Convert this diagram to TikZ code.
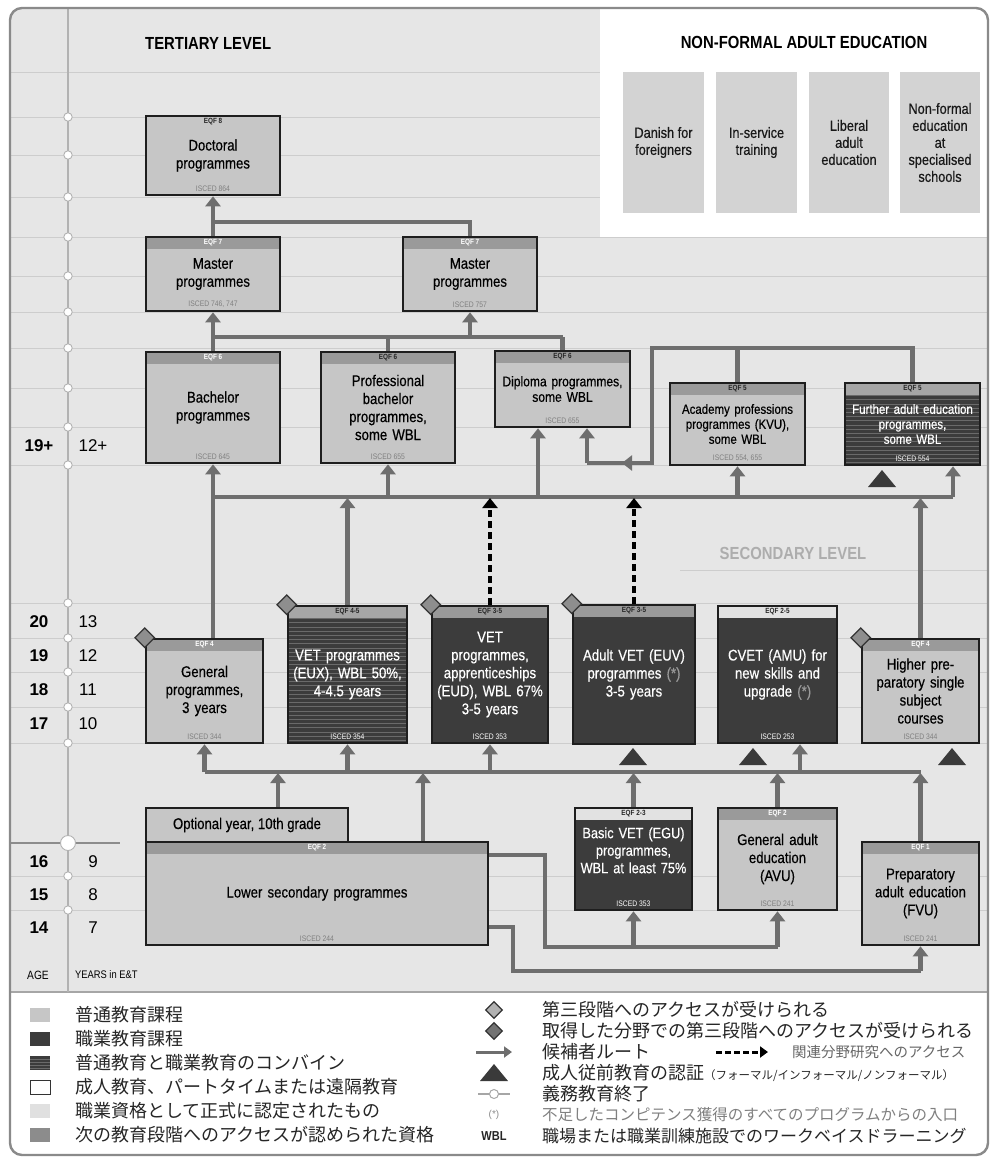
\documentclass[tikz,border=0pt]{standalone}
\usepackage{fontspec}
\setmainfont{Liberation Sans}
\newfontfamily\cond[FakeStretch=0.85]{Liberation Sans}
\newfontfamily\condm[FakeStretch=0.85,FakeBold=0.45]{Liberation Sans}
\newfontfamily\jp{Noto Sans CJK JP}
\usetikzlibrary{arrows.meta,shapes.geometric,calc}
\definecolor{cbg}{HTML}{E6E6E6}
\definecolor{cgrid}{HTML}{CDCDCD}
\definecolor{cframe}{HTML}{8A8A8A}
\definecolor{croute}{HTML}{6E6E6E}
\definecolor{cborder}{HTML}{1E1E1E}
\definecolor{clight}{HTML}{C6C6C6}
\definecolor{cdark}{HTML}{3C3C3C}
\definecolor{cstripe}{HTML}{6A6A6A}
\definecolor{cband}{HTML}{9A9A9A}
\definecolor{cbandmid}{HTML}{A6A6A6}
\definecolor{cbandlight}{HTML}{E2E2E2}
\definecolor{cdiam}{HTML}{8E8E8E}
\definecolor{ctri}{HTML}{3A3A3A}
\definecolor{cnf}{HTML}{D3D3D3}

\newcommand\progbox[9][]{%
  \pgfmathsetmacro\pbw{#5-#3}%
  \pgfmathsetmacro\pbh{#6-#4}%
  \pgfmathsetmacro\pbt{#5-#3-6}%
  \pgfmathsetmacro\pbx{(#3+#5)/2}%
  \pgfmathsetmacro\pby{(#4+#6)/2}%
  \node[prog,minimum width=\pbw pt,minimum height=\pbh pt,text width=\pbt pt,#1] (#2) at (\pbx,\pby) {#8};
  \node[eqf] (#2-eqf) at ([yshift=-6.6pt]#2.north) {#7};
  \node[isced] (#2-isc) at ([yshift=8pt]#2.south) {#9};
}
\newcommand\rpl[3]{\fill[ctri] ({#2-14},{#3+8}) -- ({#2+14},{#3+8}) -- (#2,{#3-9}) -- cycle; \coordinate (#1) at (#2,#3);}

\begin{document}
\begin{tikzpicture}[x=1pt,y=-1pt,
  route/.style={draw=croute,line width=4.2pt},
  rarrow/.style={route,-{Triangle[width=15pt,length=10pt]}},
  darrow/.style={draw=black,line width=4pt,dash pattern=on 7pt off 4pt,-{Triangle[width=15pt,length=10pt]}},
  prog/.style={draw=cborder,line width=2.6pt,inner sep=0pt,align=center,fill=clight,text=black,font=\condm\fontsize{15.5}{18}\selectfont},
  bandbox/.style={path picture={\fill[#1] (path picture bounding box.north west) rectangle ([yshift=-12pt]path picture bounding box.north east);}},
  darkbox/.style={fill=cdark,text=white,bandbox=#1},
  stripebox/.style={fill=cdark,text=white,path picture={\foreach \k in {1,...,34}{\draw[cstripe,line width=0.7pt] ([yshift=-\k*4.2pt]path picture bounding box.north west) -- ([yshift=-\k*4.2pt]path picture bounding box.north east);} \fill[#1] (path picture bounding box.north west) rectangle ([yshift=-12pt]path picture bounding box.north east);}},
  eqf/.style={font=\cond\bfseries\fontsize{7.5}{7.5}\selectfont,inner sep=0pt,text=black!85},
  isced/.style={font=\cond\fontsize{8}{8}\selectfont,inner sep=0pt,text=black!50},
  diam/.style={diamond,draw=black!80,fill=cdiam,line width=1.2pt,minimum width=20pt,minimum height=20pt,inner sep=0pt},
  nfbox/.style={fill=cnf,inner sep=0pt,minimum height=141pt,align=center,text=black!90,font=\condm\fontsize{15}{17}\selectfont},
  head/.style={font=\cond\bfseries\fontsize{17.5}{18}\selectfont,inner sep=0pt},
  agebf/.style={font=\bfseries\fontsize{17}{17}\selectfont,inner sep=0pt},
  agerg/.style={font=\fontsize{17}{17}\selectfont,inner sep=0pt},
  lt/.style={anchor=west,inner sep=0pt,font=\jp\fontsize{18}{18}\selectfont,text=black!85},
  lsq/.style={minimum width=20pt,minimum height=14pt,inner sep=0pt}
]
\useasboundingbox (0,0) rectangle (993,1162);
\fill[white] (0,0) rectangle (993,1162);
% background
\begin{scope}
\clip[rounded corners=12pt] (10,8) rectangle (988,1155);
\fill[cbg] (10,8) rectangle (988,992);
\fill[white] (600,8) rectangle (988,237);
\fill[white] (10,992) rectangle (988,1155);
\foreach \yy in {72,117,155,197} \draw[cgrid,line width=1pt] (10,\yy) -- (600,\yy);
\foreach \yy in {237,276,312,348,388,427,465,603,638,672,707,743,876,910} \draw[cgrid,line width=1pt] (10,\yy) -- (988,\yy);
\draw[cgrid,line width=1pt] (680,570) -- (988,570);
\draw[black!45,line width=1.5pt] (10,843) -- (120,843);
\draw[black!35,line width=1.5pt] (10,992) -- (988,992);
\end{scope}
\draw[black!30,line width=1.6pt] (68,8) -- (68,992);
\foreach \yy in {117,155,197,237,276,312,348,388,427,465,603,638,672,707,743,876,910}
  \draw[black!30,fill=white,line width=0.9pt] (68,\yy) circle (4.2pt);
\draw[black!30,fill=white,line width=0.9pt] (68,843) circle (7.5pt);
\draw[cframe,line width=2.4pt,rounded corners=12pt] (10,8) rectangle (988,1155);

% headings
\node[head,anchor=west] (tert) at (145,43) {TERTIARY LEVEL};
\node[head] (nfhead) at (804,42) {NON-FORMAL ADULT EDUCATION};
\node[head,text=black!32] (sec) at (793,553) {SECONDARY LEVEL};

% non-formal boxes
\node[nfbox,minimum width=81pt] (nf1) at (663.5,142.5) {Danish for\\foreigners};
\node[nfbox,minimum width=81pt] (nf2) at (756.5,142.5) {In-service\\training};
\node[nfbox,minimum width=80pt] (nf3) at (849,142.5) {Liberal\\adult\\education};
\node[nfbox,minimum width=80pt] (nf4) at (940,142.5) {Non-formal\\education\\at\\specialised\\schools};

% age column
\node[agebf] (a19) at (39,446) {19+};
\node[agerg] (y12p) at (93,446) {12+};
\foreach \a/\b/\yy in {20/13/622,19/12/656,18/11/690,17/10/724}{
  \node[agebf] (a\a) at (39,\yy) {\a};
  \node[agerg] (y\b) at (88,\yy) {\b};
}
\foreach \a/\b/\yy in {16/9/862,15/8/895,14/7/928}{
  \node[agebf] (a\a) at (39,\yy) {\a};
  \node[agerg] (y\b) at (93,\yy) {\b};
}
\node[inner sep=0pt,font=\cond\fontsize{12}{12}\selectfont] (agel) at (38,975) {AGE};
\node[inner sep=0pt,anchor=west,font=\cond\fontsize{11}{11}\selectfont] (yearsl) at (75,975) {YEARS in E\&T};

% programme boxes
\progbox[bandbox=clight]{doc}{146}{116}{280}{195}{EQF 8}{Doctoral\\programmes}{ISCED 864}
\progbox[bandbox=cband]{m1}{146}{237}{280}{311}{\color{white}EQF 7}{Master\\programmes}{ISCED 746, 747}
\progbox[bandbox=cband]{m2}{403}{237}{537}{311}{\color{white}EQF 7}{Master\\programmes}{ISCED 757}
\progbox[bandbox=cband]{bach}{146}{352}{280}{463}{\color{white}EQF 6}{Bachelor\\programmes}{ISCED 645}
\progbox[bandbox=cband]{pb}{321}{352}{455}{463}{EQF 6}{Professional\\bachelor\\programmes,\\some WBL}{ISCED 655}
\progbox[bandbox=cband,font=\condm\fontsize{14.2}{15.5}\selectfont]{dip}{495}{351}{630}{427}{EQF 6}{Diploma programmes,\\some WBL}{ISCED 655}
\progbox[bandbox=cband,font=\condm\fontsize{13.5}{15}\selectfont]{ac}{670}{383}{805}{465}{EQF 5}{Academy professions\\programmes (KVU),\\some WBL}{ISCED 554, 655}
\progbox[stripebox=cbandmid,font=\condm\fontsize{13.5}{15}\selectfont]{fa}{845}{383}{980}{465}{EQF 5}{Further adult education\\programmes,\\some WBL}{\color{white}ISCED 554}

\progbox[bandbox=cband]{gen}{146}{639}{263}{743}{\color{white}EQF 4}{General\\programmes,\\3 years}{ISCED 344}
\progbox[stripebox=cbandmid]{eux}{288}{606}{407}{743}{EQF 4-5}{VET programmes\\(EUX), WBL 50\%,\\4-4.5 years}{\color{white}ISCED 354}
\progbox[darkbox=cband]{eud}{432}{606}{548}{743}{EQF 3-5}{VET\\programmes,\\apprenticeships\\(EUD), WBL 67\%\\3-5 years}{\color{white}ISCED 353}
\progbox[darkbox=cband]{avet}{573}{605}{695}{744}{EQF 3-5}{Adult VET (EUV)\\programmes {\color{white!60!black}(*)}\\3-5 years}{}
\progbox[darkbox=cbandlight]{cvet}{718}{606}{837}{743}{EQF 2-5}{CVET (AMU) for\\new skills and\\upgrade {\color{white!60!black}(*)}}{\color{white}ISCED 253}
\progbox[bandbox=cband]{hp}{862}{639}{979}{743}{\color{white}EQF 4}{Higher pre-\\paratory single\\subject\\courses}{ISCED 344}

\node[prog,minimum width=202pt,minimum height=34pt] (opt) at (247,825) {Optional year, 10th grade};
\progbox[bandbox=cband]{ls}{146}{842}{488}{945}{\color{white}EQF 2}{Lower secondary programmes}{ISCED 244}
\progbox[darkbox=cbandlight,font=\condm\fontsize{15}{17.5}\selectfont]{bvet}{575}{808}{692}{910}{EQF 2-3}{Basic VET (EGU)\\programmes,\\WBL at least 75\%\\\mbox{}}{\color{white}ISCED 353}
\progbox[bandbox=cband]{gae}{718}{808}{837}{910}{\color{white}EQF 2}{General adult\\education\\(AVU)}{ISCED 241}
\progbox[bandbox=cband]{fvu}{862}{842}{979}{945}{\color{white}EQF 1}{Preparatory\\adult education\\(FVU)}{ISCED 241}

% helper coordinates
\coordinate (y222) at (0,222);
\coordinate (y337) at (0,337);
\coordinate (y348) at (0,348);
\coordinate (y463) at (0,463);
\coordinate (y497) at (0,497);
\coordinate (y772) at (0,772);
\coordinate (y855) at (0,855);
\coordinate (y927) at (0,927);
\coordinate (y947) at (0,947);
\coordinate (y971) at (0,971);
\coordinate (xdipL) at (538,0);
\coordinate (xdipR) at (587,0);
\coordinate (xloop) at (652,0);
\coordinate (xmid) at (622,0);
\coordinate (xfa) at (953,0);
\coordinate (xcv) at (800,0);
\coordinate (xopt) at (278,0);
\coordinate (xls) at (423,0);
\coordinate (xb1) at (545,0);
\coordinate (xb2) at (513,0);

% tertiary connectors
\draw[route] (m2.north) |- (m1.north |- y222);
\draw[rarrow] (m1.north) -- (doc.south);
\draw[route] (bach.north |- y337) -- (dip.north |- y337);
\draw[route] (pb.north) -- (pb.north |- y337);
\draw[route] (dip.north) -- (dip.north |- y337);
\draw[rarrow] (bach.north) -- (m1.south);
\draw[rarrow] (m2.south |- y337) -- (m2.south);
\draw[route] (ac.north) -- (ac.north |- y348);
\draw[route] (fa.north) |- (xloop |- y348) -- (xloop |- y463) -- (xdipR |- y463);
\draw[rarrow] (xloop |- y463) -- (xmid |- y463);
\draw[rarrow] (xdipR |- y463) -- (xdipR |- dip.south);

% main line to tertiary
\draw[route] (bach.south |- y497) -- (xfa |- y497);
\draw[rarrow] (gen.north -| bach.south) -- (bach.south);
\draw[rarrow] (pb.south |- y497) -- (pb.south);
\draw[rarrow] (xdipL |- y497) -- (xdipL |- dip.south);
\draw[rarrow] (ac.south |- y497) -- (ac.south);
\draw[rarrow] (xfa |- y497) -- (xfa |- fa.south);
\draw[rarrow,shorten >=1pt] (eux.north) -- (eux.north |- y497);
\draw[darrow,shorten >=1pt] (eud.north) -- (eud.north |- y497);
\draw[darrow,shorten >=1pt] (avet.north) -- (avet.north |- y497);
\draw[rarrow,shorten >=1pt] (hp.north) -- (hp.north |- y497);

% secondary line
\draw[route] (gen.south |- y772) -- (fvu.north |- y772);
\draw[rarrow] (gen.south |- y772) -- (gen.south);
\draw[rarrow] (eux.south |- y772) -- (eux.south);
\draw[rarrow] (eud.south |- y772) -- (eud.south);
\draw[rarrow] (xcv |- y772) -- (xcv |- cvet.south);
\draw[rarrow,shorten >=1pt] (opt.north -| xopt) -- (xopt |- y772);
\draw[rarrow,shorten >=1pt] (ls.north -| xls) -- (xls |- y772);
\draw[rarrow,shorten >=1pt] (bvet.north) -- (bvet.north |- y772);
\draw[rarrow,shorten >=1pt] (gae.north) -- (gae.north |- y772);
\draw[rarrow,shorten >=1pt] (fvu.north) -- (fvu.north |- y772);

% bottom loops
\draw[route] (ls.east |- y855) -| (xb1 |- y947) -- (gae.south |- y947);
\draw[rarrow] (bvet.south |- y947) -- (bvet.south);
\draw[rarrow] (gae.south |- y947) -- (gae.south);
\draw[route] (ls.east |- y927) -| (xb2 |- y971) -- (fvu.south |- y971);
\draw[rarrow] (fvu.south |- y971) -- (fvu.south);

% diamonds
\node[diam] (dgen) at (gen.north west) {};
\node[diam] (deux) at (eux.north west) {};
\node[diam] (deud) at (eud.north west) {};
\node[diam] (davet) at (avet.north west) {};
\node[diam] (dhp) at (hp.north west) {};

% recognition triangles
\rpl{t1}{882}{479}
\rpl{t2}{633}{757}
\rpl{t3}{753}{757}
\rpl{t4}{952}{757}

% legend left
\node[lsq,fill=clight] (lg1) at (40,1015) {};
\node[lsq,fill=cdark] (lg2) at (40,1039) {};
\node[lsq,fill=cdark,path picture={\foreach \k in {1,...,4}{\draw[cstripe,line width=0.7pt] ([yshift=-\k*3pt]path picture bounding box.north west) -- ([yshift=-\k*3pt]path picture bounding box.north east);}}] (lg3) at (40,1063) {};
\node[lsq,fill=white,draw=black!80,line width=1pt] (lg4) at (40,1087) {};
\node[lsq,fill=black!12] (lg5) at (40,1111) {};
\node[lsq,fill=black!45] (lg6) at (40,1135) {};
\node[lt] (lt1) at (75,1015) {普通教育課程};
\node[lt] (lt2) at (75,1039) {職業教育課程};
\node[lt] (lt3) at (75,1063) {普通教育と職業教育のコンバイン};
\node[lt] (lt4) at (75,1087) {成人教育、パートタイムまたは遠隔教育};
\node[lt] (lt5) at (75,1111) {職業資格として正式に認定されたもの};
\node[lt] (lt6) at (75,1135) {次の教育段階へのアクセスが認められた資格};

% legend right
\node[diam,fill=black!30,minimum width=17pt,minimum height=17pt] (ld1) at (494,1010) {};
\node[diam,fill=black!55,minimum width=17pt,minimum height=17pt] (ld2) at (494,1031) {};
\coordinate (la1) at (476,1052);
\coordinate (la2) at (512,1052);
\draw[route,line width=3pt,-{Triangle[width=11pt,length=8pt]}] (la1) -- (la2);
\coordinate (lb1) at (716,1052);
\coordinate (lb2) at (768,1052);
\draw[black,line width=3pt,dash pattern=on 6pt off 3pt,-{Triangle[width=11pt,length=8pt]}] (lb1) -- (lb2);
\rpl{lt4tri}{494}{1073}
\coordinate (lc1) at (478,1094);
\coordinate (lc2) at (510,1094);
\draw[black!35,line width=1.6pt] (lc1) -- (lc2);
\draw[black!35,fill=white,line width=1pt] (494,1094) circle (4.5pt);
\node[inner sep=0pt,font=\fontsize{10}{10}\selectfont,text=black!45] (lstar) at (494,1115) {(*)};
\node[inner sep=0pt,font=\cond\bfseries\fontsize{13}{13}\selectfont,text=black!85] (lwbl) at (494,1136) {WBL};
\node[lt,font=\jp\fontsize{18}{18}\selectfont] (rt1) at (542,1010) {第三段階へのアクセスが受けられる};
\node[lt,font=\jp\fontsize{18}{18}\selectfont] (rt2) at (542,1031) {取得した分野での第三段階へのアクセスが受けられる};
\node[lt,font=\jp\fontsize{18}{18}\selectfont] (rt3) at (542,1052) {候補者ルート};
\node[lt,font=\jp\fontsize{14.5}{14.5}\selectfont,text=black!60] (rt3b) at (792,1052) {関連分野研究へのアクセス};
\node[lt,font=\jp\fontsize{18}{18}\selectfont] (rt4) at (542,1073) {成人従前教育の認証{\fontsize{11.5}{11.5}\selectfont（フォーマル/インフォーマル/ノンフォーマル）}};
\node[lt,font=\jp\fontsize{18}{18}\selectfont] (rt5) at (542,1094) {義務教育終了};
\node[lt,font=\jp\fontsize{15.5}{15.5}\selectfont,text=black!50] (rt6) at (542,1115) {不足したコンピテンス獲得のすべてのプログラムからの入口};
\node[lt,font=\jp\fontsize{17}{17}\selectfont] (rt7) at (542,1136) {職場または職業訓練施設でのワークベイスドラーニング};
\end{tikzpicture}
\end{document}
